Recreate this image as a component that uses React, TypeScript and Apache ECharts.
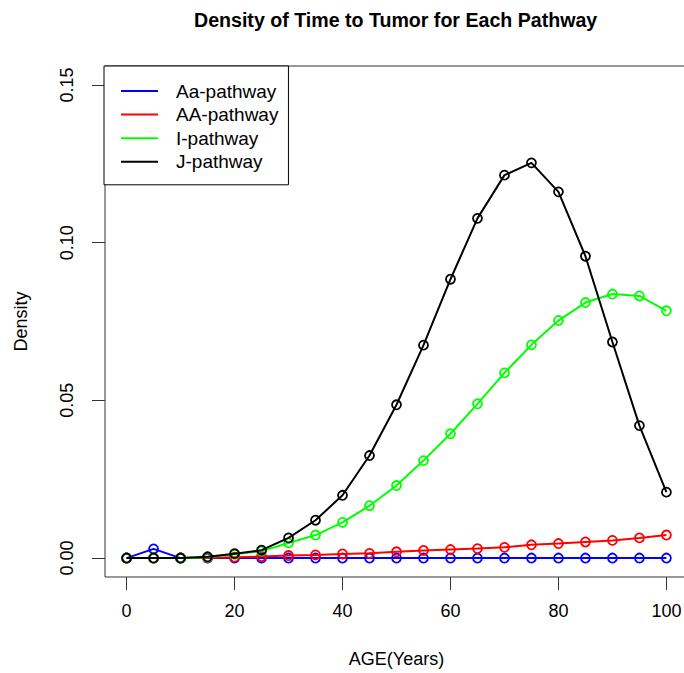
import React, { useEffect, useRef } from "react";
import * as echarts from "echarts";

const ages = [0, 5, 10, 15, 20, 25, 30, 35, 40, 45, 50, 55, 60, 65, 70, 75, 80, 85, 90, 95, 100];
const aaLower = [0, 0.0029, 0, 0, 0, 0, 0, 0, 0, 0, 0, 0, 0, 0, 0, 0, 0, 0, 0, 0, 0];
const aaUpper = [0, 0, 0, 0.0001, 0.0003, 0.0005, 0.0008, 0.001, 0.0013, 0.0015, 0.002, 0.0024, 0.0027, 0.003, 0.0034, 0.0042, 0.0046, 0.0051, 0.0056, 0.0064, 0.0073];
const iPath = [0, 0, 0, 0.0003, 0.0012, 0.0022, 0.0048, 0.0073, 0.0113, 0.0166, 0.023, 0.0309, 0.0394, 0.0489, 0.0587, 0.0676, 0.0753, 0.081, 0.0837, 0.0831, 0.0784];
const jPath = [0, 0, 0, 0.0004, 0.0014, 0.0025, 0.0064, 0.012, 0.0199, 0.0325, 0.0486, 0.0675, 0.0884, 0.1077, 0.1214, 0.1253, 0.1161, 0.0957, 0.0685, 0.042, 0.0209];

const seriesNames = ["Aa-pathway", "AA-pathway", "I-pathway", "J-pathway"];
const seriesColors = ["#0000ff", "#ff0000", "#00ff00", "#000000"];
const seriesValues = [aaLower, aaUpper, iPath, jPath];

const xTicks = [0, 20, 40, 60, 80, 100];
const yTicks = [0, 0.05, 0.1, 0.15];

export default function App() {
  const ref = useRef<HTMLDivElement>(null);
  useEffect(() => {
    if (!ref.current) return;
    const chart = echarts.init(ref.current, null, { renderer: "svg" });
    const font = "'Liberation Sans', Arial, Helvetica, sans-serif";
    chart.setOption({
      animation: false,
      backgroundColor: "#ffffff",
      textStyle: { fontFamily: font },
      title: {
        text: "Density of Time to Tumor for Each Pathway",
        left: 189,
        top: 5,
        textStyle: { fontFamily: font, fontWeight: "bold", fontSize: 19.6, color: "#000" },
      },
      legend: {
        orient: "vertical",
        left: 104,
        top: 66,
        padding: [15, 10, 13, 17],
        itemGap: 3.6,
        itemWidth: 37,
        itemHeight: 2,
        icon: "rect",
        borderColor: "#000",
        borderWidth: 1,
        backgroundColor: "#fff",
        textStyle: { fontFamily: font, fontSize: 19, color: "#000", lineHeight: 20, padding: [0, 0, 0, 13] },
        data: seriesNames.map((n, i) => ({ name: n, itemStyle: { color: seriesColors[i], borderWidth: 0 } })),
      },
      grid: {
        left: 105,
        top: 66,
        right: -4,
        bottom: 96,
        outerBoundsMode: "none",
        containLabel: false,
        show: true,
        borderColor: "#333",
        borderWidth: 1,
        backgroundColor: "transparent",
      },
      xAxis: {
        type: "value",
        min: -4,
        max: 104,
        name: "AGE(Years)",
        nameLocation: "middle",
        nameGap: 73,
        nameTextStyle: { fontFamily: font, fontSize: 18, color: "#000" },
        axisLine: { show: false, onZero: false },
        splitLine: { show: false },
        axisTick: { show: true, length: 13, customValues: xTicks, lineStyle: { color: "#333" } },
        axisLabel: {
          customValues: xTicks,
          margin: 25,
          fontFamily: font,
          fontSize: 18,
          color: "#000",
        },
      },
      yAxis: {
        type: "value",
        min: -0.006,
        max: 0.156,
        name: "Density",
        nameLocation: "middle",
        nameGap: 75,
        nameRotate: 90,
        nameTextStyle: { fontFamily: font, fontSize: 18, color: "#000" },
        axisLine: { show: false, onZero: false },
        splitLine: { show: false },
        axisTick: { show: true, length: 13, customValues: yTicks, lineStyle: { color: "#333" } },
        axisLabel: {
          customValues: yTicks,
          rotate: 90,
          margin: 29,
          fontFamily: font,
          fontSize: 18,
          color: "#000",
          formatter: (v: number) => v.toFixed(2),
        },
      },
      series: seriesNames.map((n, i) => ({
        name: n,
        type: "line",
        data: ages.map((a, j) => [a, seriesValues[i][j]]),
        symbol: "circle",
        symbolSize: 9,
        showSymbol: true,
        lineStyle: { color: seriesColors[i], width: 2 },
        itemStyle: { color: "transparent", borderColor: seriesColors[i], borderWidth: 1.8 },
        emphasis: { disabled: true },
        z: 2 + i,
      })),
    });
    return () => chart.dispose();
  }, []);
  return <div ref={ref} style={{ position: "fixed", left: 0, top: 0, width: 684, height: 673 }} />;
}
